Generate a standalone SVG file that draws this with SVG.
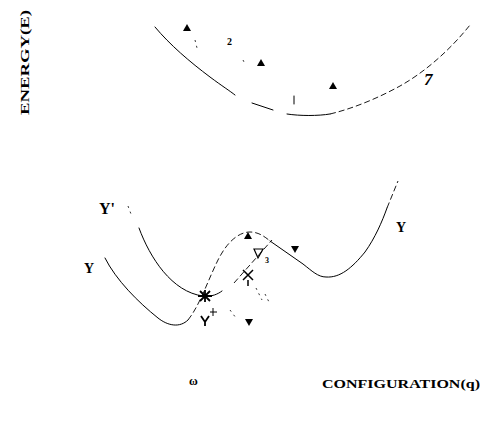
<svg xmlns="http://www.w3.org/2000/svg" width="487" height="426" viewBox="0 0 487 426">
<style>
.c{fill:none;stroke:#000;stroke-width:1;stroke-linecap:round}
.d{fill:none;stroke:#000;stroke-width:0.9;stroke-dasharray:6 3}
.f{fill:none;stroke:#000;stroke-width:0.8;stroke-dasharray:2 4}
.t{font-family:"Liberation Serif",serif;font-weight:bold;fill:#000}
.tri{fill:#000}
</style>
<defs>
<path id="up" d="M0,-4 L4,3 L-4,3 Z"/>
<path id="dn" d="M-4,-3 L4,-3 L0,4 Z"/>
</defs>
<rect width="487" height="426" fill="#fff"/>
<g id="axes">
<text class="t" font-size="12" transform="translate(29,115) rotate(-90)" textLength="105" lengthAdjust="spacingAndGlyphs">ENERGY(E)</text>
<text class="t" font-size="13" x="322" y="388" textLength="158" lengthAdjust="spacingAndGlyphs">CONFIGURATION(q)</text>
<text class="t" font-size="12" font-weight="normal" x="189" y="385">ω</text>
</g>
<g id="top-curve">
<path class="c" d="M155,27 C170,45 190,62 210,77 C222,86 230,91 235,95"/>
<path class="c" d="M252,103 L273,110"/>
<path class="c" d="M287,114 C300,116 318,116 330,114"/>
<path class="d" d="M330,114 C355,108 380,97 400,86 C425,72 450,50 470,25"/>
<path class="f" d="M195,40 L197,48 M243,60 L245,64"/>
<use href="#up" class="tri" x="187" y="28"/>
<use href="#up" class="tri" x="261" y="63"/>
<use href="#up" class="tri" x="333" y="86"/>
<text class="t" font-size="10" font-weight="normal" x="227" y="45">2</text>
<text class="t" font-size="17" font-weight="normal" font-style="italic" x="424" y="85">7</text>
<path class="c" d="M294,96 L294,104" stroke-width="0.8"/>
</g>
<g id="bottom-curves">
<path class="f" d="M128,206 L131,214"/>
<path class="c" d="M139,228 C150,258 172,292 203,296 C212,297 218,294 222,291"/>
<path class="d" d="M234,283 L272,240"/>
<path class="c" d="M270,241 L303,264 C312,271 318,277 326,277 C340,278 352,268 365,252 C375,238 382,222 387,208"/>
<path class="d" d="M387,208 L398,181"/>
<path class="c" d="M105,258 C116,280 138,302 158,318 C168,326 180,328 188,320"/>
<path class="d" d="M188,320 C200,305 208,280 218,260 C228,240 240,232 250,232 C258,232 264,236 270,241"/>
<path class="f" d="M230,310 L236,318 M256,288 L262,300 M265,294 L270,304"/>
<text class="t" font-size="16" x="99" y="214">Y'</text>
<text class="t" font-size="14" x="84" y="273">Y</text>
<text class="t" font-size="14" x="396" y="232">Y</text>
<use href="#dn" class="tri" x="295" y="249"/>
<use href="#up" class="tri" x="248" y="236"/>
<path d="M254,249 L263,249 L258,258 Z" fill="none" stroke="#000" stroke-width="1.2"/>
<text class="t" font-size="8" font-weight="normal" x="265" y="263">3</text>
<path d="M243,270 L253,280 M253,270 L243,280 M248,280 L248,286" stroke="#000" stroke-width="1.5"/>
<path d="M198,296 L212,296 M205,290 L205,302 M200,291 L210,301 M210,291 L200,301" stroke="#000" stroke-width="1.8"/>
<path d="M201,316 L205,322 L209,316 M205,322 L205,326" stroke="#000" stroke-width="1.8" fill="none"/>
<use href="#dn" class="tri" x="249" y="322"/>
<path d="M213,308 L213,316 M210,312 L217,312" stroke="#000" stroke-width="1"/>
</g>
</svg>
